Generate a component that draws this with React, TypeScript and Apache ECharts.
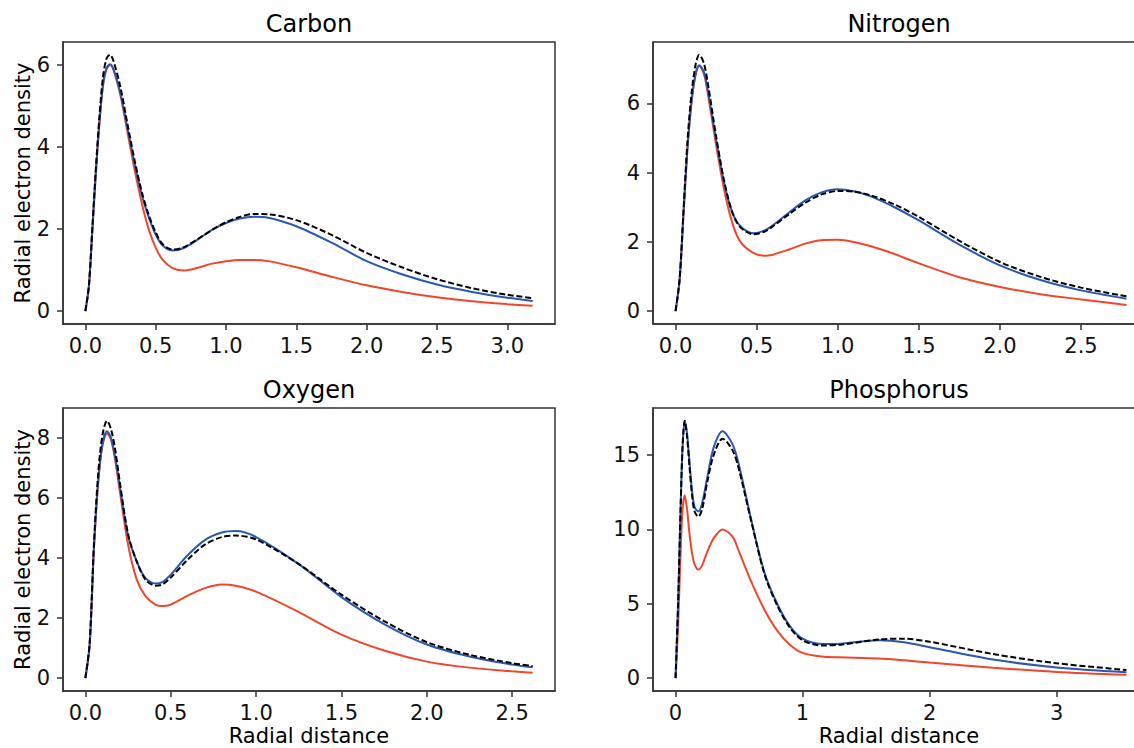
import React, { useEffect, useRef } from "react";
import * as echarts from "echarts";

// ---------- data ----------
const panelTitles = ["Carbon", "Nitrogen", "Oxygen", "Phosphorus"];
const yAxisName = "Radial electron density";
const xAxisName = "Radial distance";

const carbonX = [0, 0.025, 0.05, 0.075, 0.1, 0.125, 0.15, 0.175, 0.2, 0.25, 0.3, 0.35, 0.4, 0.45, 0.5, 0.55, 0.62, 0.7, 0.8, 0.9, 1.0, 1.1, 1.2, 1.3, 1.5, 1.75, 2.0, 2.25, 2.5, 2.75, 3.0, 3.18];
const carbonRed = [0, 0.6, 2.0, 3.4, 4.6, 5.5, 5.9, 6.0, 5.88, 5.25, 4.35, 3.45, 2.65, 2.0, 1.55, 1.25, 1.05, 0.99, 1.06, 1.16, 1.22, 1.25, 1.25, 1.22, 1.07, 0.84, 0.63, 0.47, 0.34, 0.24, 0.17, 0.13];
const carbonBlue = [0, 0.6, 2.0, 3.4, 4.6, 5.5, 5.92, 6.02, 5.9, 5.3, 4.45, 3.6, 2.85, 2.3, 1.87, 1.6, 1.48, 1.54, 1.75, 1.98, 2.15, 2.26, 2.3, 2.28, 2.07, 1.67, 1.22, 0.9, 0.65, 0.47, 0.33, 0.25];
const carbonDashed = [0, 0.62, 2.05, 3.5, 4.75, 5.7, 6.15, 6.25, 6.1, 5.45, 4.55, 3.68, 2.92, 2.35, 1.92, 1.63, 1.5, 1.56, 1.76, 1.98, 2.17, 2.3, 2.37, 2.36, 2.22, 1.86, 1.42, 1.07, 0.78, 0.56, 0.4, 0.32];

const nitrogenX = [0, 0.025, 0.05, 0.075, 0.1, 0.125, 0.146, 0.175, 0.2, 0.25, 0.3, 0.35, 0.4, 0.48, 0.55, 0.6, 0.7, 0.8, 0.9, 1.0, 1.1, 1.2, 1.35, 1.5, 1.75, 2.0, 2.25, 2.5, 2.78];
const nitrogenRed = [0, 0.9, 2.9, 4.8, 6.1, 6.85, 7.08, 6.85, 6.25, 4.8, 3.5, 2.55, 2.0, 1.68, 1.6, 1.63, 1.78, 1.95, 2.05, 2.06, 2.0, 1.88, 1.65, 1.38, 0.98, 0.7, 0.49, 0.34, 0.18];
const nitrogenBlue = [0, 0.9, 2.9, 4.8, 6.1, 6.88, 7.1, 6.9, 6.35, 4.95, 3.7, 2.85, 2.45, 2.25, 2.33, 2.48, 2.85, 3.2, 3.43, 3.52, 3.46, 3.32, 3.0, 2.62, 1.92, 1.32, 0.9, 0.6, 0.36];
const nitrogenDashed = [0, 0.92, 3.0, 5.0, 6.35, 7.15, 7.4, 7.15, 6.55, 5.05, 3.75, 2.85, 2.42, 2.22, 2.3, 2.45, 2.8, 3.13, 3.37, 3.47, 3.45, 3.35, 3.08, 2.72, 2.03, 1.42, 0.99, 0.68, 0.43];

const oxygenX = [0, 0.025, 0.05, 0.075, 0.1, 0.127, 0.15, 0.175, 0.2, 0.25, 0.3, 0.35, 0.41, 0.45, 0.5, 0.6, 0.7, 0.8, 0.88, 1.0, 1.25, 1.5, 1.75, 2.0, 2.25, 2.5, 2.62];
const oxygenRed = [0, 1.1, 4.3, 6.5, 7.75, 8.15, 7.95, 7.25, 6.3, 4.45, 3.3, 2.75, 2.45, 2.4, 2.45, 2.75, 3.0, 3.12, 3.08, 2.88, 2.2, 1.45, 0.92, 0.55, 0.35, 0.23, 0.18];
const oxygenBlue = [0, 1.1, 4.3, 6.55, 7.8, 8.22, 8.0, 7.35, 6.45, 4.75, 3.9, 3.35, 3.15, 3.2, 3.45, 4.1, 4.6, 4.85, 4.9, 4.7, 3.8, 2.7, 1.8, 1.12, 0.72, 0.45, 0.36];
const oxygenDashed = [0, 1.15, 4.45, 6.8, 8.1, 8.57, 8.3, 7.6, 6.6, 4.8, 3.9, 3.3, 3.08, 3.12, 3.35, 3.95, 4.45, 4.7, 4.75, 4.62, 3.8, 2.78, 1.9, 1.2, 0.78, 0.5, 0.4];

const phosphorusX = [0, 0.02, 0.04, 0.055, 0.072, 0.09, 0.11, 0.13, 0.15, 0.18, 0.21, 0.25, 0.3, 0.37, 0.45, 0.5, 0.6, 0.7, 0.8, 0.9, 1.0, 1.15, 1.3, 1.6, 1.8, 2.0, 2.5, 3.0, 3.55];
const phosphorusRed = [0, 3.5, 8.5, 11.3, 12.3, 11.4, 9.7, 8.4, 7.65, 7.3, 7.6, 8.5, 9.4, 10.0, 9.5, 8.5, 6.4, 4.6, 3.2, 2.25, 1.7, 1.45, 1.4, 1.32, 1.2, 1.05, 0.7, 0.42, 0.22];
const phosphorusBlue = [0, 5.0, 11.5, 15.5, 17.25, 16.5, 14.5, 12.6, 11.5, 11.2, 11.8, 13.5, 15.5, 16.6, 15.7, 14.3, 10.5, 7.1, 5.0, 3.5, 2.65, 2.3, 2.32, 2.55, 2.42, 2.08, 1.25, 0.72, 0.4];
const phosphorusDashed = [0, 5.0, 11.5, 15.5, 17.3, 16.3, 14.2, 12.3, 11.2, 10.85, 11.4, 13.2, 15.0, 16.1, 15.3, 14.0, 10.4, 7.0, 4.9, 3.4, 2.55, 2.2, 2.25, 2.6, 2.65, 2.45, 1.62, 1.0, 0.55];

const carbonXTicks = [0, 0.5, 1.0, 1.5, 2.0, 2.5, 3.0];
const carbonYTicks = [0, 2, 4, 6];
const nitrogenXTicks = [0, 0.5, 1.0, 1.5, 2.0, 2.5];
const nitrogenYTicks = [0, 2, 4, 6];
const oxygenXTicks = [0, 0.5, 1.0, 1.5, 2.0, 2.5];
const oxygenYTicks = [0, 2, 4, 6, 8];
const phosphorusXTicks = [0, 1, 2, 3];
const phosphorusYTicks = [0, 5, 10, 15];

// ---------- styling / layout ----------
const RED = "#f1462c";
const BLUE = "#2a58ae";
const BLACK = "#000000";
const FRAME = "#333333";
const FONT = "DejaVu Sans";

const panels = [
  { x: carbonX, red: carbonRed, blue: carbonBlue, dashed: carbonDashed, xt: carbonXTicks, yt: carbonYTicks, dec: 1 },
  { x: nitrogenX, red: nitrogenRed, blue: nitrogenBlue, dashed: nitrogenDashed, xt: nitrogenXTicks, yt: nitrogenYTicks, dec: 1 },
  { x: oxygenX, red: oxygenRed, blue: oxygenBlue, dashed: oxygenDashed, xt: oxygenXTicks, yt: oxygenYTicks, dec: 1 },
  { x: phosphorusX, red: phosphorusRed, blue: phosphorusBlue, dashed: phosphorusDashed, xt: phosphorusXTicks, yt: phosphorusYTicks, dec: 0 },
];

const gridBoxes = [
  { left: 63, top: 42, width: 492, height: 282 },
  { left: 653, top: 42, width: 496, height: 282 },
  { left: 63, top: 408, width: 492, height: 283 },
  { left: 653, top: 408, width: 496, height: 283 },
];

function range(arrs: number[][]) {
  let lo = Infinity, hi = -Infinity;
  arrs.forEach((a) => a.forEach((v) => { if (v < lo) lo = v; if (v > hi) hi = v; }));
  const m = (hi - lo) * 0.05;
  return [lo - m, hi + m];
}

function pairs(xs: number[], ys: number[]) {
  return xs.map((x, i) => [x, ys[i]]);
}

export default function App() {
  const ref = useRef<HTMLDivElement>(null);
  useEffect(() => {
    document.body.style.margin = "0";
    if (!ref.current) return;
    const chart = echarts.init(ref.current, undefined, { renderer: "svg" });

    const grid: any[] = [];
    const xAxis: any[] = [];
    const yAxis: any[] = [];
    const series: any[] = [];
    const graphic: any[] = [];

    panels.forEach((p, i) => {
      const g = gridBoxes[i];
      grid.push({ ...g, show: true, borderColor: FRAME, borderWidth: 1.5, backgroundColor: "transparent", containLabel: false });
      const [xmin, xmax] = range([p.x]);
      const [ymin, ymax] = range([p.red, p.blue, p.dashed]);
      const lineStyle = { color: FRAME, width: 1.5 };
      xAxis.push({
        gridIndex: i, type: "value", min: xmin, max: xmax,
        splitLine: { show: false },
        axisLine: { show: true, onZero: false, lineStyle },
        axisTick: { show: true, length: 6, inside: false, lineStyle, customValues: p.xt },
        axisLabel: {
          customValues: p.xt, margin: 11, fontSize: 21, fontFamily: FONT, color: "#111",
          formatter: (v: number) => v.toFixed(p.dec),
        },
      });
      yAxis.push({
        gridIndex: i, type: "value", min: ymin, max: ymax,
        splitLine: { show: false },
        axisLine: { show: true, onZero: false, lineStyle },
        axisTick: { show: true, length: 6, inside: false, lineStyle, customValues: p.yt },
        axisLabel: {
          customValues: p.yt, margin: 13, fontSize: 21, fontFamily: FONT, color: "#111",
          formatter: (v: number) => String(v),
        },
      });
      const common = { type: "line", xAxisIndex: i, yAxisIndex: i, showSymbol: false, smooth: 0.3, animation: false };
      series.push({ ...common, name: "red" + i, data: pairs(p.x, p.red), lineStyle: { color: RED, width: 2 } });
      series.push({ ...common, name: "blue" + i, data: pairs(p.x, p.blue), lineStyle: { color: BLUE, width: 2 } });
      series.push({ ...common, name: "dashed" + i, data: pairs(p.x, p.dashed), lineStyle: { color: BLACK, width: 2, type: [6, 2.7] } });

      const cx = g.left + 246;
      graphic.push({
        type: "text", x: cx, y: g.top - 18,
        style: { text: panelTitles[i], fontSize: 24, fontFamily: FONT, fill: "#000", align: "center", verticalAlign: "middle", textAlign: "center", textVerticalAlign: "middle" },
      });
      if (i % 2 === 0) {
        graphic.push({
          type: "text", x: 23, y: g.top + g.height / 2, rotation: Math.PI / 2,
          style: { text: yAxisName, fontSize: 21, fontFamily: FONT, fill: "#000", align: "center", verticalAlign: "middle", textAlign: "center", textVerticalAlign: "middle" },
        });
      }
      if (i >= 2) {
        graphic.push({
          type: "text", x: cx, y: 736,
          style: { text: xAxisName, fontSize: 21, fontFamily: FONT, fill: "#000", align: "center", verticalAlign: "middle", textAlign: "center", textVerticalAlign: "middle" },
        });
      }
    });

    chart.setOption({
      animation: false,
      backgroundColor: "#ffffff",
      grid, xAxis, yAxis, series, graphic,
    });
    return () => chart.dispose();
  }, []);
  return (
    <div style={{ width: 1134, height: 748, overflow: "hidden", position: "relative" }}>
      <div ref={ref} style={{ width: 1154, height: 748 }} />
    </div>
  );
}
